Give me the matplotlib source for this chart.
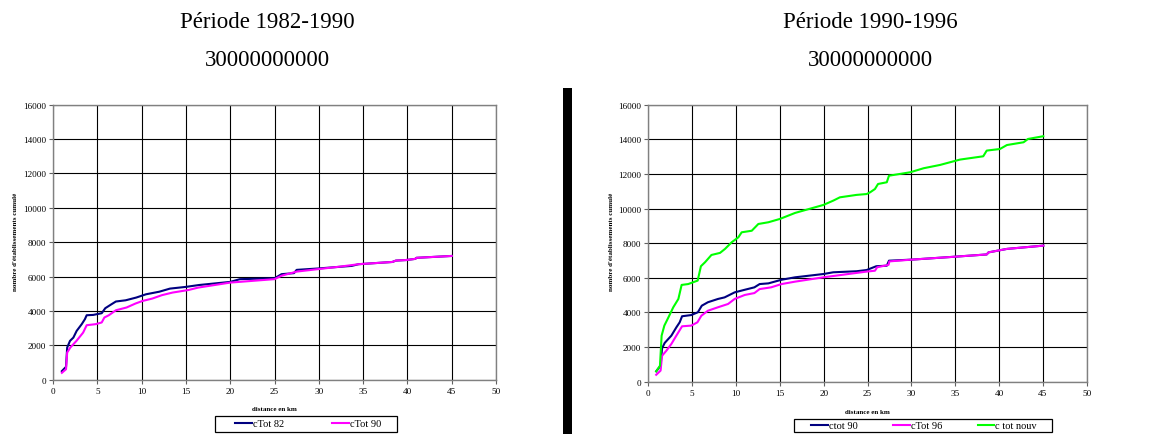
import matplotlib
matplotlib.use("Agg")
import matplotlib.pyplot as plt
from matplotlib.patches import Rectangle

# Cumulative number of establishments vs distance (km)
# Period 1982-1990
dist_82 = [1.0, 1.47, 1.6, 1.92, 2.3, 2.67, 3.24, 3.6, 3.8, 4.55, 5.5, 5.9, 6.6, 7.1, 8.2,
           9.4, 10.5, 12.0, 13.2, 15.0, 16.5, 20.0, 21.1, 25.0, 25.8, 27.2, 27.5, 29.9, 33.7,
           34.5, 38.3, 38.7, 39.8, 40.9, 41.0, 45.0]
ctot_82 = [500, 750, 1870, 2260, 2450, 2840, 3230, 3520, 3750, 3770, 3870, 4160, 4390, 4550, 4620,
           4780, 4970, 5120, 5300, 5400, 5510, 5690, 5850, 5900, 6140, 6200, 6390, 6470, 6620,
           6720, 6850, 6930, 6960, 7030, 7090, 7200]

dist_90a = [1.0, 1.47, 1.6, 1.95, 2.65, 3.4, 3.8, 4.8, 5.5, 5.8, 6.3, 7.1, 8.3, 9.3, 10.1,
            11.2, 12.3, 13.5, 15.3, 16.4, 20.0, 25.0, 25.8, 27.5, 32.4, 34.5, 38.3, 38.7, 39.8,
            40.9, 41.0, 45.0]
ctot_90a = [400, 610, 1580, 1870, 2260, 2740, 3170, 3230, 3330, 3620, 3750, 4040, 4200, 4430, 4580,
            4720, 4920, 5070, 5220, 5360, 5650, 5850, 6050, 6290, 6580, 6720, 6850, 6930, 6960,
            7030, 7090, 7200]

# Period 1990-1996
dist_90b = [0.9, 1.4, 1.57, 1.87, 2.63, 3.2, 3.58, 3.85, 4.9, 5.65, 6.1, 6.8, 7.95, 8.7, 9.85,
            11.0, 12.1, 12.7, 13.7, 15.2, 16.75, 19.97, 21.1, 23.75, 24.9, 26.0, 27.2, 27.45, 30.0,
            34.4, 38.6, 38.8, 40.9, 45.05]
ctot_90b = [600, 920, 1930, 2240, 2660, 3140, 3430, 3780, 3850, 4010, 4390, 4590, 4780, 4870, 5160,
            5310, 5450, 5640, 5680, 5890, 6030, 6220, 6320, 6380, 6450, 6670, 6700, 6990, 7050,
            7200, 7350, 7470, 7670, 7860]

dist_96 = [0.9, 1.4, 1.57, 2.06, 2.63, 3.2, 3.85, 4.9, 5.6, 6.05, 6.8, 7.95, 9.1, 9.85, 11.0,
           12.1, 12.7, 14.0, 15.2, 16.75, 19.97, 24.9, 25.85, 26.1, 27.4, 27.5, 30.0, 34.4, 38.6,
           38.8, 40.9, 45.05]
ctot_96 = [400, 640, 1500, 1790, 2180, 2660, 3200, 3240, 3430, 3810, 4100, 4300, 4490, 4780, 5010,
           5120, 5350, 5450, 5640, 5780, 6030, 6360, 6410, 6610, 6750, 6950, 7050, 7200, 7350,
           7470, 7670, 7860]

dist_nouv = [0.9, 1.33, 1.52, 1.83, 2.3, 2.85, 3.43, 3.8, 4.55, 5.63, 6.0, 6.47, 7.2, 8.18, 8.75,
             9.5, 10.27, 10.65, 11.8, 12.55, 13.7, 15.0, 16.75, 19.97, 21.1, 21.85, 23.75, 24.9,
             25.3, 25.85, 26.2, 27.2, 27.45, 28.7, 29.9, 31.4, 33.27, 35.55, 38.2, 38.6, 40.1,
             40.9, 42.8, 43.3, 45.05]
ctot_nouv = [600, 920, 2660, 3240, 3720, 4300, 4780, 5590, 5640, 5840, 6670, 6900, 7320, 7440, 7670,
             8050, 8340, 8630, 8720, 9110, 9210, 9400, 9750, 10210, 10460, 10650, 10790, 10840,
             10940, 11130, 11420, 11520, 11900, 12000, 12100, 12330, 12520, 12830, 13020, 13350,
             13440, 13670, 13830, 14020, 14180]

titles = ["Période 1982-1990", "Période 1990-1996"]
subtitle = "30000000000"
xlabel = "distance en km"
ylabel = "nombre d'établissements cumulé"
xticks = list(range(0, 55, 5))
yticks = list(range(0, 18000, 2000))

NAVY = "#000080"
MAGENTA = "#FF00FF"
GREEN = "#00FF00"
SERIF = "Liberation Serif"

W, H = 1157, 435
fig = plt.figure(figsize=(W / 100, H / 100), dpi=100)
fig.patch.set_facecolor("white")


def px_axes(x0, x1, ytop, ybot):
    return fig.add_axes([x0 / W, (H - ybot) / H, (x1 - x0) / W, (ybot - ytop) / H])


def style_axes(ax):
    ax.set_xlim(0, 50)
    ax.set_ylim(0, 16000)
    ax.set_xticks(xticks)
    ax.set_yticks(yticks)
    ax.grid(True, color="black", linewidth=0.8)
    ax.set_axisbelow(True)
    for s in ax.spines.values():
        s.set_color("#808080")
        s.set_linewidth(1.0)
    ax.tick_params(direction="out", length=3, width=0.8, color="#606060",
                   labelsize=6.6, pad=2)
    for lab in ax.get_xticklabels() + ax.get_yticklabels():
        lab.set_fontfamily(SERIF)


# Left panel
ax1 = px_axes(53, 496, 105.7, 380.7)
style_axes(ax1)
l1, = ax1.plot(dist_82, ctot_82, color=NAVY, lw=1.5, label="cTot 82")
l2, = ax1.plot(dist_90a, ctot_90a, color=MAGENTA, lw=1.5, label="cTot 90")

# Right panel
ax2 = px_axes(648.3, 1086.7, 105.7, 382.7)
style_axes(ax2)
r1, = ax2.plot(dist_90b, ctot_90b, color=NAVY, lw=1.5, label="ctot 90")
r2, = ax2.plot(dist_96, ctot_96, color=MAGENTA, lw=1.5, label="cTot 96")
r3, = ax2.plot(dist_nouv, ctot_nouv, color=GREEN, lw=1.5, label="c tot nouv")

# Titles
for cx, t in [(267, titles[0]), (870, titles[1])]:
    fig.text(cx / W, (H - 22) / H, t, ha="center", va="center",
             fontsize=16.5, family=SERIF)
    fig.text(cx / W, (H - 60) / H, subtitle, ha="center", va="center",
             fontsize=16.5, family=SERIF)

# Axis labels
for cx, cy in [(274.5, 409.3), (867.5, 412.7)]:
    fig.text(cx / W, (H - cy) / H, xlabel, ha="center", va="center",
             fontsize=5, fontweight="bold", family=SERIF)
for cx, cy in [(16, 242), (611.7, 242)]:
    fig.text(cx / W, (H - cy) / H, ylabel, ha="center", va="center",
             rotation=90, fontsize=5, fontweight="bold", family=SERIF)


def boxed_legend(handles, fx0, fx1, x0, x1, ytop, ybot):
    # outer frame
    fig.add_artist(Rectangle((fx0 / W, (H - ybot) / H), (fx1 - fx0) / W, (ybot - ytop) / H,
                             transform=fig.transFigure, facecolor="white",
                             edgecolor="black", linewidth=0.9, zorder=3))
    leg = fig.legend(handles=handles, loc="center",
                     bbox_to_anchor=(x0 / W, (H - ybot) / H, (x1 - x0) / W, (ybot - ytop) / H),
                     mode="expand", ncol=len(handles), frameon=False,
                     borderpad=0, handlelength=1.6, handletextpad=0.1,
                     borderaxespad=0, prop={"family": SERIF, "size": 7.5})
    leg.set_zorder(4)
    return leg


boxed_legend([l1, l2], 215, 397, 235, 381, 416.7, 433)
boxed_legend([r1, r2, r3], 794, 1052, 811, 1037, 420, 433)

# Vertical separator bar
fig.add_artist(Rectangle((563 / W, 0), 9 / W, (H - 89) / H, transform=fig.transFigure,
                         facecolor="black", edgecolor="none"))

fig.savefig("out.png", dpi=100, facecolor="white")
